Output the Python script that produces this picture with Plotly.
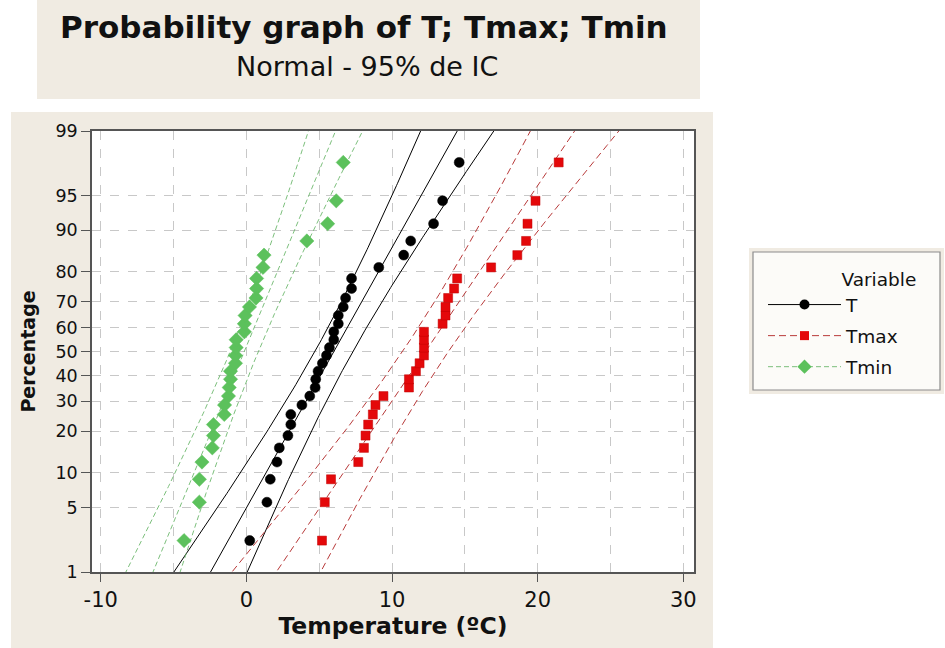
import numpy as np
import plotly.graph_objects as go
from statistics import NormalDist

# ---- data (sorted values, n = 30 each) ----
T_values = [0.23, 1.41, 1.64, 2.10, 2.26, 2.85, 3.05, 3.05, 3.81, 4.35,
            4.72, 4.76, 4.92, 5.22, 5.50, 5.70, 6.00, 6.00, 6.31, 6.31,
            6.65, 6.81, 7.22, 7.22, 9.09, 10.80, 11.28, 12.85, 13.47, 14.61]
Tmax_values = [5.19, 5.38, 5.81, 7.68, 8.07, 8.18, 8.36, 8.68, 8.86, 9.41,
               11.16, 11.16, 11.64, 11.89, 12.19, 12.19, 12.19, 12.19, 13.47, 13.67,
               13.67, 13.85, 14.26, 14.47, 16.80, 18.60, 19.20, 19.30, 19.85, 21.44]
Tmin_values = [-4.28, -3.23, -3.23, -3.05, -2.34, -2.26, -2.26, -1.52, -1.50, -1.23,
               -1.18, -1.09, -1.09, -0.75, -0.75, -0.70, -0.70, -0.14, -0.14, -0.09,
               0.21, 0.66, 0.70, 0.70, 1.14, 1.21, 4.15, 5.58, 6.17, 6.65]
series_names = ["T", "Tmax", "Tmin"]
percent_ticks = [1, 5, 10, 20, 30, 40, 50, 60, 70, 80, 90, 95, 99]
x_ticks = [-10, 0, 10, 20, 30]
confidence = 0.95

nd = NormalDist()
def zq(p):
    return nd.inv_cdf(p)

styles = {
    "T":    dict(mc="#000000", sym="circle", ms=10, lc="#000000", dash="solid", lw=1.0, mlc="#000000"),
    "Tmax": dict(mc="#E4080A", sym="square", ms=9, lc="#B83A3A", dash="7px,4px", lw=1.0, mlc="#C00000"),
    "Tmin": dict(mc="#5CC15C", sym="diamond", ms=11, lc="#6DB86D", dash="5px,3px", lw=0.9, mlc="#5CC15C"),
}

fig = go.Figure()
zc = zq(0.5 + confidence / 2)
zgrid = np.linspace(-2.5, 2.5, 201)

for name, vals in zip(series_names, [T_values, Tmax_values, Tmin_values]):
    st = styles[name]
    v = np.sort(np.array(vals))
    n = len(v)
    ranks = np.arange(1, n + 1)
    pz = [zq((i - 0.3) / (n + 0.4)) for i in ranks]
    mu = v.mean()
    sd = v.std(ddof=1)
    fit = mu + sd * zgrid
    half = zc * sd * np.sqrt(1.0 / n + zgrid ** 2 / (2.0 * n))
    for xs in (fit, fit - half, fit + half):
        fig.add_trace(go.Scatter(x=xs, y=zgrid, mode="lines", showlegend=False,
                                 hoverinfo="skip", legendgroup=name,
                                 line=dict(color=st["lc"], width=st["lw"], dash=st["dash"])))
    fig.add_trace(go.Scatter(x=v, y=pz, mode="markers", showlegend=False, name=name,
                             legendgroup=name,
                             marker=dict(color=st["mc"], symbol=st["sym"], size=st["ms"],
                                         line=dict(color=st["mlc"], width=0.5))))
    # legend entry
    fig.add_trace(go.Scatter(x=[None], y=[None], mode="lines+markers", name=name,
                             legendgroup=name,
                             line=dict(color=st["lc"], width=st["lw"], dash=st["dash"]),
                             marker=dict(color=st["mc"], symbol=st["sym"], size=st["ms"])))

W, H = 945, 648
L, R, TOP, B = 92, 251, 131, 76
pw, ph = W - L - R, H - TOP - B

def px(x):
    return (x - L) / pw
def py(y):
    return (H - B - y) / ph

beige = "#F0EBE2"
font_main = "DejaVu Sans, Verdana, sans-serif"
shapes = [
    dict(type="rect", xref="paper", yref="paper", x0=px(37), x1=px(700), y0=py(99), y1=py(0),
         fillcolor=beige, line=dict(width=0), layer="below"),
    dict(type="rect", xref="paper", yref="paper", x0=px(11), x1=px(713), y0=py(648), y1=py(112),
         fillcolor=beige, line=dict(width=0), layer="below"),
    dict(type="rect", xref="paper", yref="paper", x0=0, x1=1, y0=0, y1=1,
         fillcolor="white", line=dict(width=0), layer="below"),
    dict(type="rect", xref="paper", yref="paper", x0=px(749), x1=px(944), y0=py(394), y1=py(248),
         fillcolor=beige, line=dict(width=0), layer="below"),
    dict(type="rect", xref="paper", yref="paper", x0=px(753), x1=px(940), y0=py(390), y1=py(252),
         fillcolor="#FCFBF8", line=dict(width=1.2, color="#8C8C8C"), layer="below"),
]

fig.update_layout(
    width=W, height=H,
    margin=dict(l=L, r=R, t=TOP, b=B, autoexpand=False),
    paper_bgcolor="white", plot_bgcolor="white",
    shapes=shapes,
    font=dict(family=font_main, color="#111111"),
    annotations=[
        dict(text="<b>Probability graph of T; Tmax; Tmin</b>", xref="paper", yref="paper",
             x=px(364), y=py(27), showarrow=False, font=dict(size=31, color="#111111"),
             xanchor="center", yanchor="middle"),
        dict(text="Normal - 95% de IC", xref="paper", yref="paper",
             x=px(367), y=py(66), showarrow=False, font=dict(size=27, color="#111111"),
             xanchor="center", yanchor="middle"),
    ],
    legend=dict(
        title=dict(text="\u00a0" * 13 + "Variable", side="top", font=dict(size=18.5)),
        x=px(763), y=py(262), xanchor="left", yanchor="top",
        bgcolor="rgba(0,0,0,0)", borderwidth=0,
        font=dict(size=18.5), tracegroupgap=4, traceorder="grouped", itemwidth=73,
    ),
    showlegend=True,
)

fig.update_xaxes(
    range=[-10.6, 30.73], tickvals=x_ticks, ticktext=[str(t) for t in x_ticks],
    ticks="outside", ticklen=8, tickcolor="#555555", tickfont=dict(size=21),
    showline=True, linecolor="#555555", linewidth=1.5, mirror=True,
    showgrid=True, gridcolor="#C8C8C8", griddash="dash", gridwidth=1,
    minor=dict(dtick=5, tick0=0, showgrid=True, gridcolor="#C8C8C8", griddash="dash", ticks=""),
    zeroline=False,
    title=dict(text="<b>Temperature (ºC)</b>", font=dict(size=23.5), standoff=2),
)
fig.update_yaxes(
    range=[zq(0.01), zq(0.99)], tickvals=[zq(p / 100) for p in percent_ticks],
    ticktext=[str(p) for p in percent_ticks],
    ticks="outside", ticklen=9, tickcolor="#555555", tickfont=dict(size=17.5),
    showline=True, linecolor="#555555", linewidth=1.5, mirror=True,
    showgrid=True, gridcolor="#C8C8C8", griddash="dash", gridwidth=1,
    zeroline=False,
    title=dict(text="<b>Percentage</b>", font=dict(size=19), standoff=15),
)

fig.write_html("out.html")
